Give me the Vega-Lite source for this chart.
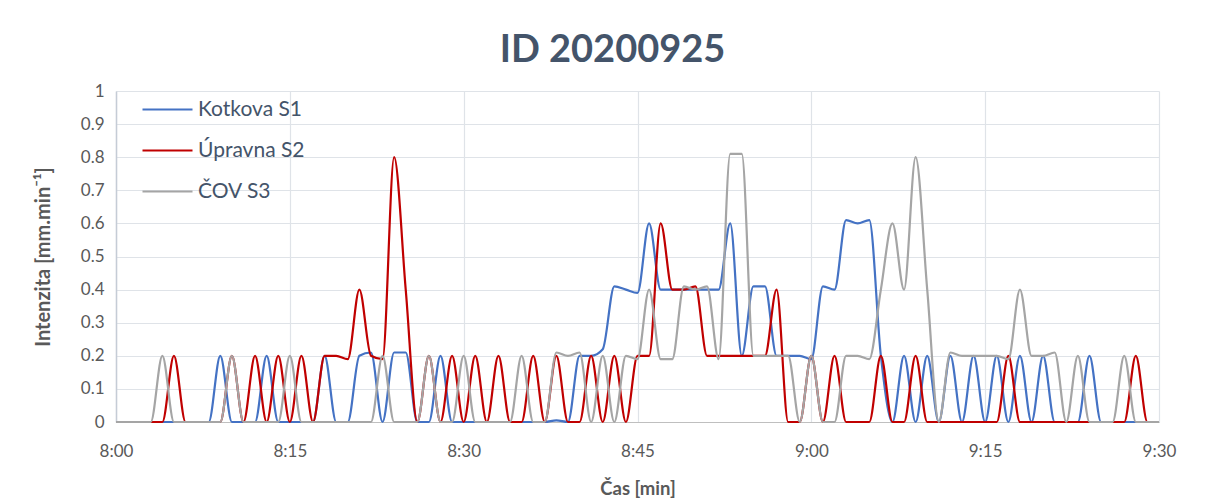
{
  "$schema": "https://vega.github.io/schema/vega-lite/v6.json",
  "width": 1043,
  "height": 331,
  "autosize": {"type": "none"},
  "padding": {"left": 116, "top": 91, "right": 46, "bottom": 77},
  "background": "white",
  "title": {
    "text": "ID 20200925",
    "font": "Lato",
    "fontSize": 38,
    "fontWeight": "bold",
    "color": "#44546A",
    "anchor": "middle",
    "frame": "group",
    "dx": -25,
    "offset": 12
  },
  "config": {
    "view": {"stroke": null},
    "font": "Lato",
    "axis": {
      "labelFont": "Lato",
      "titleFont": "Lato",
      "labelColor": "#595959",
      "titleColor": "#595959",
      "gridColor": "#dfe3e8",
      "gridWidth": 1.2,
      "ticks": false
    }
  },
  "data": {
    "values": [
      {"t":0,"s1":0,"s2":0,"s3":0},
      {"t":1,"s1":0,"s2":0,"s3":0},
      {"t":2,"s1":0,"s2":0,"s3":0},
      {"t":3,"s1":0,"s2":0,"s3":0},
      {"t":4,"s1":0,"s2":0,"s3":0.2},
      {"t":5,"s1":0,"s2":0.2,"s3":0},
      {"t":6,"s1":0,"s2":0,"s3":0},
      {"t":7,"s1":0,"s2":0,"s3":0},
      {"t":8,"s1":0,"s2":0,"s3":0},
      {"t":9,"s1":0.2,"s2":0,"s3":0},
      {"t":10,"s1":0,"s2":0.2,"s3":0.2},
      {"t":11,"s1":0,"s2":0,"s3":0},
      {"t":12,"s1":0,"s2":0.2,"s3":0},
      {"t":13,"s1":0.2,"s2":0,"s3":0},
      {"t":14,"s1":0,"s2":0.2,"s3":0},
      {"t":15,"s1":0,"s2":0,"s3":0.2},
      {"t":16,"s1":0,"s2":0.2,"s3":0},
      {"t":17,"s1":0,"s2":0,"s3":0},
      {"t":18,"s1":0.2,"s2":0.2,"s3":0},
      {"t":19,"s1":0,"s2":0.2,"s3":0},
      {"t":20,"s1":0,"s2":0.19,"s3":0},
      {"t":21,"s1":0.2,"s2":0.4,"s3":0},
      {"t":22,"s1":0.21,"s2":0.2,"s3":0},
      {"t":23,"s1":0,"s2":0.19,"s3":0.2},
      {"t":24,"s1":0.21,"s2":0.8,"s3":0},
      {"t":25,"s1":0.21,"s2":0.4,"s3":0},
      {"t":26,"s1":0,"s2":0,"s3":0},
      {"t":27,"s1":0,"s2":0.2,"s3":0.2},
      {"t":28,"s1":0.2,"s2":0,"s3":0},
      {"t":29,"s1":0,"s2":0.2,"s3":0},
      {"t":30,"s1":0,"s2":0,"s3":0.2},
      {"t":31,"s1":0,"s2":0.2,"s3":0},
      {"t":32,"s1":0,"s2":0,"s3":0},
      {"t":33,"s1":0,"s2":0.2,"s3":0},
      {"t":34,"s1":0,"s2":0,"s3":0},
      {"t":35,"s1":0,"s2":0,"s3":0.2},
      {"t":36,"s1":0,"s2":0.2,"s3":0},
      {"t":37,"s1":0,"s2":0,"s3":0},
      {"t":38,"s1":0.005,"s2":0.2,"s3":0.21},
      {"t":39,"s1":0,"s2":0,"s3":0.2},
      {"t":40,"s1":0.2,"s2":0,"s3":0.21},
      {"t":41,"s1":0.2,"s2":0.2,"s3":0},
      {"t":42,"s1":0.22,"s2":0,"s3":0.2},
      {"t":43,"s1":0.41,"s2":0.2,"s3":0},
      {"t":44,"s1":0.4,"s2":0,"s3":0.2},
      {"t":45,"s1":0.39,"s2":0.2,"s3":0.19},
      {"t":46,"s1":0.6,"s2":0.2,"s3":0.4},
      {"t":47,"s1":0.4,"s2":0.6,"s3":0.19},
      {"t":48,"s1":0.4,"s2":0.4,"s3":0.19},
      {"t":49,"s1":0.4,"s2":0.4,"s3":0.41},
      {"t":50,"s1":0.4,"s2":0.41,"s3":0.4},
      {"t":51,"s1":0.4,"s2":0.2,"s3":0.41},
      {"t":52,"s1":0.4,"s2":0.2,"s3":0.19},
      {"t":53,"s1":0.6,"s2":0.2,"s3":0.81},
      {"t":54,"s1":0.2,"s2":0.2,"s3":0.81},
      {"t":55,"s1":0.41,"s2":0.2,"s3":0.2},
      {"t":56,"s1":0.41,"s2":0.2,"s3":0.2},
      {"t":57,"s1":0.2,"s2":0.4,"s3":0.2},
      {"t":58,"s1":0.2,"s2":0,"s3":0.2},
      {"t":59,"s1":0.2,"s2":0,"s3":0},
      {"t":60,"s1":0.19,"s2":0.2,"s3":0.2},
      {"t":61,"s1":0.41,"s2":0,"s3":0},
      {"t":62,"s1":0.4,"s2":0.2,"s3":0},
      {"t":63,"s1":0.61,"s2":0,"s3":0.2},
      {"t":64,"s1":0.6,"s2":0,"s3":0.2},
      {"t":65,"s1":0.61,"s2":0,"s3":0.19},
      {"t":66,"s1":0.2,"s2":0.2,"s3":0.4},
      {"t":67,"s1":0,"s2":0,"s3":0.6},
      {"t":68,"s1":0.2,"s2":0,"s3":0.4},
      {"t":69,"s1":0,"s2":0.2,"s3":0.8},
      {"t":70,"s1":0.2,"s2":0,"s3":0.4},
      {"t":71,"s1":0,"s2":0,"s3":0},
      {"t":72,"s1":0.2,"s2":0,"s3":0.21},
      {"t":73,"s1":0,"s2":0,"s3":0.2},
      {"t":74,"s1":0.2,"s2":0,"s3":0.2},
      {"t":75,"s1":0,"s2":0,"s3":0.2},
      {"t":76,"s1":0.2,"s2":0,"s3":0.2},
      {"t":77,"s1":0,"s2":0.2,"s3":0.19},
      {"t":78,"s1":0.2,"s2":0,"s3":0.4},
      {"t":79,"s1":0,"s2":0,"s3":0.2},
      {"t":80,"s1":0.2,"s2":0,"s3":0.2},
      {"t":81,"s1":0,"s2":0,"s3":0.21},
      {"t":82,"s1":0,"s2":0,"s3":0},
      {"t":83,"s1":0,"s2":0,"s3":0.2},
      {"t":84,"s1":0.2,"s2":0,"s3":0},
      {"t":85,"s1":0,"s2":0,"s3":0},
      {"t":86,"s1":0,"s2":0,"s3":0},
      {"t":87,"s1":0,"s2":0,"s3":0.2},
      {"t":88,"s1":0,"s2":0.2,"s3":0},
      {"t":89,"s1":0,"s2":0,"s3":0},
      {"t":90,"s1":0,"s2":0,"s3":0}
    ]
  },
  "transform": [
    {"fold": ["s1", "s2", "s3"], "as": ["series", "v"]}
  ],
  "mark": {"type": "line", "interpolate": "monotone", "strokeWidth": 2.2, "clip": false},
  "encoding": {
    "x": {
      "field": "t",
      "type": "quantitative",
      "scale": {"domain": [0, 90], "nice": false, "zero": false},
      "axis": {
        "values": [0, 15, 30, 45, 60, 75, 90],
        "labelExpr": "(8 + floor(datum.value / 60)) + ':' + (datum.value % 60 < 10 ? '0' : '') + (datum.value % 60)",
        "labelFontSize": 17,
        "labelPadding": 21,
        "title": "Čas [min]",
        "titleFontSize": 18.5,
        "titleFontWeight": "bold",
        "titlePadding": 20,
        "domainColor": "#bfbfbf",
        "domainWidth": 1.2,
        "labelFlush": false,
        "labelOverlap": false
      }
    },
    "y": {
      "field": "v",
      "type": "quantitative",
      "scale": {"domain": [0, 1], "nice": false},
      "axis": {
        "values": [0, 0.1, 0.2, 0.3, 0.4, 0.5, 0.6, 0.7, 0.8, 0.9, 1],
        "format": ".1~f",
        "labelFontSize": 17,
        "labelPadding": 12,
        "title": "Intenzita [mm.min⁻¹]",
        "titleFontSize": 20,
        "titleFontWeight": "bold",
        "titlePadding": 27,
        "domainColor": "#c5ccd6",
        "domainWidth": 1.5,
        "labelOverlap": false
      }
    },
    "color": {
      "field": "series",
      "type": "nominal",
      "scale": {"domain": ["s1", "s2", "s3"], "range": ["#4472C4", "#C00000", "#A5A5A5"]},
      "legend": {
        "title": null,
        "orient": "none",
        "legendX": 30,
        "legendY": -3,
        "labelExpr": "datum.value == 's1' ? 'Kotkova S1' : datum.value == 's2' ? 'Úpravna S2' : 'ČOV S3'",
        "labelFont": "Lato",
        "labelFontSize": 21,
        "labelColor": "#44546A",
        "labelOffset": 9,
        "symbolType": "M-1.25,0H1.25",
        "symbolSize": 1600,
        "symbolStrokeWidth": 2.2,
        "symbolFillColor": "transparent",
        "rowPadding": 9
      }
    }
  }
}
